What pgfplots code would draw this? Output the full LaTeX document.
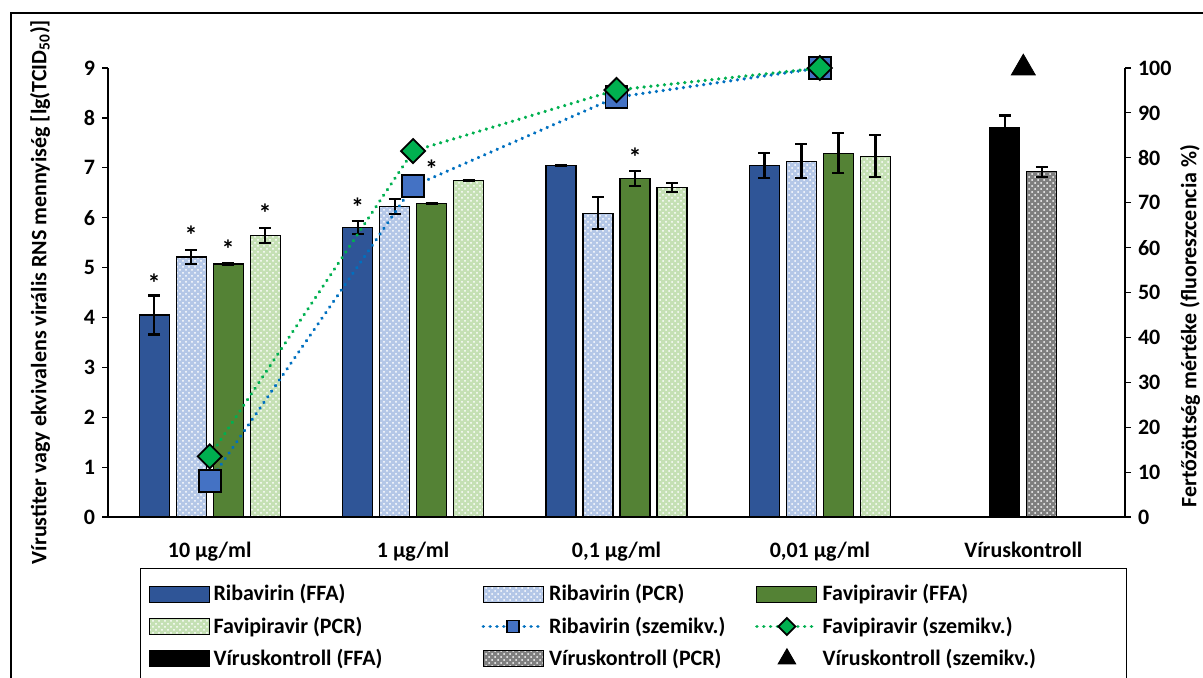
\documentclass[border=0pt]{standalone}
\usepackage{fontspec}
\setmainfont{Carlito}
\usepackage{pgfplots}
\pgfplotsset{compat=1.18}
\usetikzlibrary{patterns}
\definecolor{ribffa}{HTML}{2F5597}
\definecolor{ribpcr}{HTML}{B4C7E7}
\definecolor{favffa}{HTML}{548235}
\definecolor{favpcr}{HTML}{C5E0B4}
\definecolor{virpcr}{HTML}{7F7F7F}
\definecolor{ribline}{HTML}{0070C0}
\definecolor{favline}{HTML}{00B050}
\definecolor{ribmark}{HTML}{4472C4}
\pgfplotsset{
  barleg/.style={legend image code/.code={\draw[##1] (0pt,-4pt) rectangle (30pt,4pt);}},
  lineleg/.style={legend image code/.code={\draw[##1, mark size=3pt, mark repeat=2, mark phase=2] plot coordinates {(0pt,0pt) (15pt,0pt) (30pt,0pt)};}},
  markleg/.style={legend image code/.code={\draw[##1, mark size=5pt] plot coordinates {(15pt,0pt)};}},
  pcrfill/.style={fill=#1, postaction={pattern=crosshatch dots, pattern color=white}},
  mybar/.style={draw=black, line width=0.6pt,
    error bars/y dir=both, error bars/y explicit,
    error bars/error bar style={line width=1.1pt, black, solid},
    error bars/error mark options={rotate=90, mark size=3pt, line width=1.1pt, black}},
  dotline/.style={line width=1.8pt, line cap=round, dash pattern=on 0.01pt off 3.4pt},
}
\pgfplotstableread{
x y e
0 4.05 0.39
1 5.80 0.13
2 7.05 0.01
3 7.05 0.25
}\ribffa
\pgfplotstableread{
x y e
0 5.21 0.14
1 6.22 0.15
2 6.09 0.32
3 7.13 0.34
}\ribpcr
\pgfplotstableread{
x y e
0 5.07 0.01
1 6.28 0.01
2 6.79 0.15
3 7.29 0.40
}\favffa
\pgfplotstableread{
x y e
0 5.65 0.15
1 6.75 0.01
2 6.61 0.09
3 7.23 0.42
}\favpcr
\pgfplotstableread{
x y e
4 7.80 0.25
}\virffa
\pgfplotstableread{
x y e
4 6.92 0.10
}\virpcr
\begin{document}
\begin{tikzpicture}[font=\fontsize{11}{13}\selectfont\bfseries]
\useasboundingbox (0pt,0pt) rectangle (601.5pt,-339pt);
\draw[line width=0.7pt] (5.5pt,-6.5pt) rectangle (700pt,-400pt);
\begin{axis}[
  at={(54pt,-258.5pt)}, anchor=south west,
  scale only axis, width=508.5pt, height=224.5pt,
  ybar, bar width=15pt,
  xmin=-0.5, xmax=4.5, ymin=0, ymax=9,
  axis x line*=bottom, axis y line*=left,
  axis line style={line width=0.7pt, black},
  xtick={0,1,2,3,4},
  xticklabels={10 µg/ml, 1 µg/ml, {0,1 µg/ml}, {0,01 µg/ml}, Víruskontroll},
  xtick style={draw=none},
  xticklabel style={yshift=-6pt},
  ytick={0,1,...,9},
  tick align=outside, major tick length=3pt,
  ytick style={line width=0.6pt, black},
  tick label style={font=\fontsize{11}{13}\selectfont\bfseries},
  /pgf/number format/assume math mode=true,
  clip=false,
]
\addplot[mybar, bar shift=-27.75pt, fill=ribffa] table[x=x, y=y, y error=e] {\ribffa};
\addplot[mybar, bar shift=-9.25pt, pcrfill=ribpcr] table[x=x, y=y, y error=e] {\ribpcr};
\addplot[mybar, bar shift=9.25pt, fill=favffa] table[x=x, y=y, y error=e] {\favffa};
\addplot[mybar, bar shift=27.75pt, pcrfill=favpcr] table[x=x, y=y, y error=e] {\favpcr};
\addplot[mybar, bar shift=-9.25pt, fill=black] table[x=x, y=y, y error=e] {\virffa};
\addplot[mybar, bar shift=9.25pt, pcrfill=virpcr] table[x=x, y=y, y error=e] {\virpcr};
\node[font=\fontsize{13}{13}\selectfont\bfseries, yshift=-3pt] at (axis cs:0,4.80) [xshift=-27.75pt] {*};
\node[font=\fontsize{13}{13}\selectfont\bfseries, yshift=-3pt] at (axis cs:0,5.77) [xshift=-9.25pt] {*};
\node[font=\fontsize{13}{13}\selectfont\bfseries, yshift=-3pt] at (axis cs:0,5.48) [xshift=9.25pt] {*};
\node[font=\fontsize{13}{13}\selectfont\bfseries, yshift=-3pt] at (axis cs:0,6.20) [xshift=27.75pt] {*};
\node[font=\fontsize{13}{13}\selectfont\bfseries, yshift=-3pt] at (axis cs:1,6.33) [xshift=-27.75pt] {*};
\node[font=\fontsize{13}{13}\selectfont\bfseries, yshift=-3pt] at (axis cs:1,7.09) [xshift=9.25pt] {*};
\node[font=\fontsize{13}{13}\selectfont\bfseries, yshift=-3pt] at (axis cs:2,7.33) [xshift=9.25pt] {*};
\end{axis}
\begin{axis}[
  at={(54pt,-258.5pt)}, anchor=south west,
  scale only axis, width=508.5pt, height=224.5pt,
  xmin=-0.5, xmax=4.5, ymin=0, ymax=100,
  axis x line=none, axis y line*=right,
  axis line style={line width=0.7pt, black},
  ytick={0,10,...,100},
  tick align=outside, major tick length=3pt,
  ytick style={line width=0.6pt, black},
  tick label style={font=\fontsize{11}{13}\selectfont\bfseries},
  /pgf/number format/assume math mode=true,
  clip=false,
  legend columns=3,
  legend cell align=left,
  legend style={at={(0.0315,-0.1136)}, anchor=north west, draw=black, line width=0.5pt,
    font=\fontsize{11}{13}\selectfont\bfseries, inner xsep=4pt, inner ysep=6pt, row sep=2.5pt},
]
\addlegendimage{barleg, fill=ribffa, draw=black, line width=0.5pt}
\addlegendentry{\makebox[132pt][l]{Ribavirin (FFA)}}
\addlegendimage{barleg, pcrfill=ribpcr, draw=black, line width=0.5pt}
\addlegendentry{\makebox[101pt][l]{Ribavirin (PCR)}}
\addlegendimage{barleg, fill=favffa, draw=black, line width=0.5pt}
\addlegendentry{\makebox[146pt][l]{Favipiravir (FFA)}}
\addlegendimage{barleg, pcrfill=favpcr, draw=black, line width=0.5pt}
\addlegendentry{\makebox[132pt][l]{Favipiravir (PCR)}}
\addplot[lineleg, ribline, dotline,
  mark=square*, mark size=5.5pt, mark options={solid, fill=ribmark, draw=black, line width=0.9pt}]
  coordinates {(0,8) (1,73.7) (2,93.5) (3,100)};
\addlegendentry{\makebox[101pt][l]{Ribavirin (szemikv.)}}
\addplot[lineleg, favline, dotline,
  mark=square*, mark size=4.25pt, mark options={solid, rotate=45, fill=favline, draw=black, line width=0.9pt}]
  coordinates {(0,13.5) (1,81.5) (2,95.1) (3,100)};
\addlegendentry{\makebox[146pt][l]{Favipiravir (szemikv.)}}
\addlegendimage{barleg, fill=black, draw=black, line width=0.5pt}
\addlegendentry{\makebox[132pt][l]{Víruskontroll (FFA)}}
\addlegendimage{barleg, pcrfill=virpcr, draw=black, line width=0.5pt}
\addlegendentry{\makebox[101pt][l]{Víruskontroll (PCR)}}
\addplot[markleg, only marks, mark=triangle*, mark size=6.9pt, black] coordinates {(4,100)};
\addlegendentry{\makebox[146pt][l]{Víruskontroll (szemikv.)}}
\end{axis}
\node[rotate=90] at (20pt,-146pt) {Vírustiter vagy ekvivalens virális RNS mennyiség [lg(TCID\textsubscript{50})]};
\node[rotate=90] at (595pt,-163pt) {Fertőzöttség mértéke (fluoreszcencia \%)};
\end{tikzpicture}
\end{document}
